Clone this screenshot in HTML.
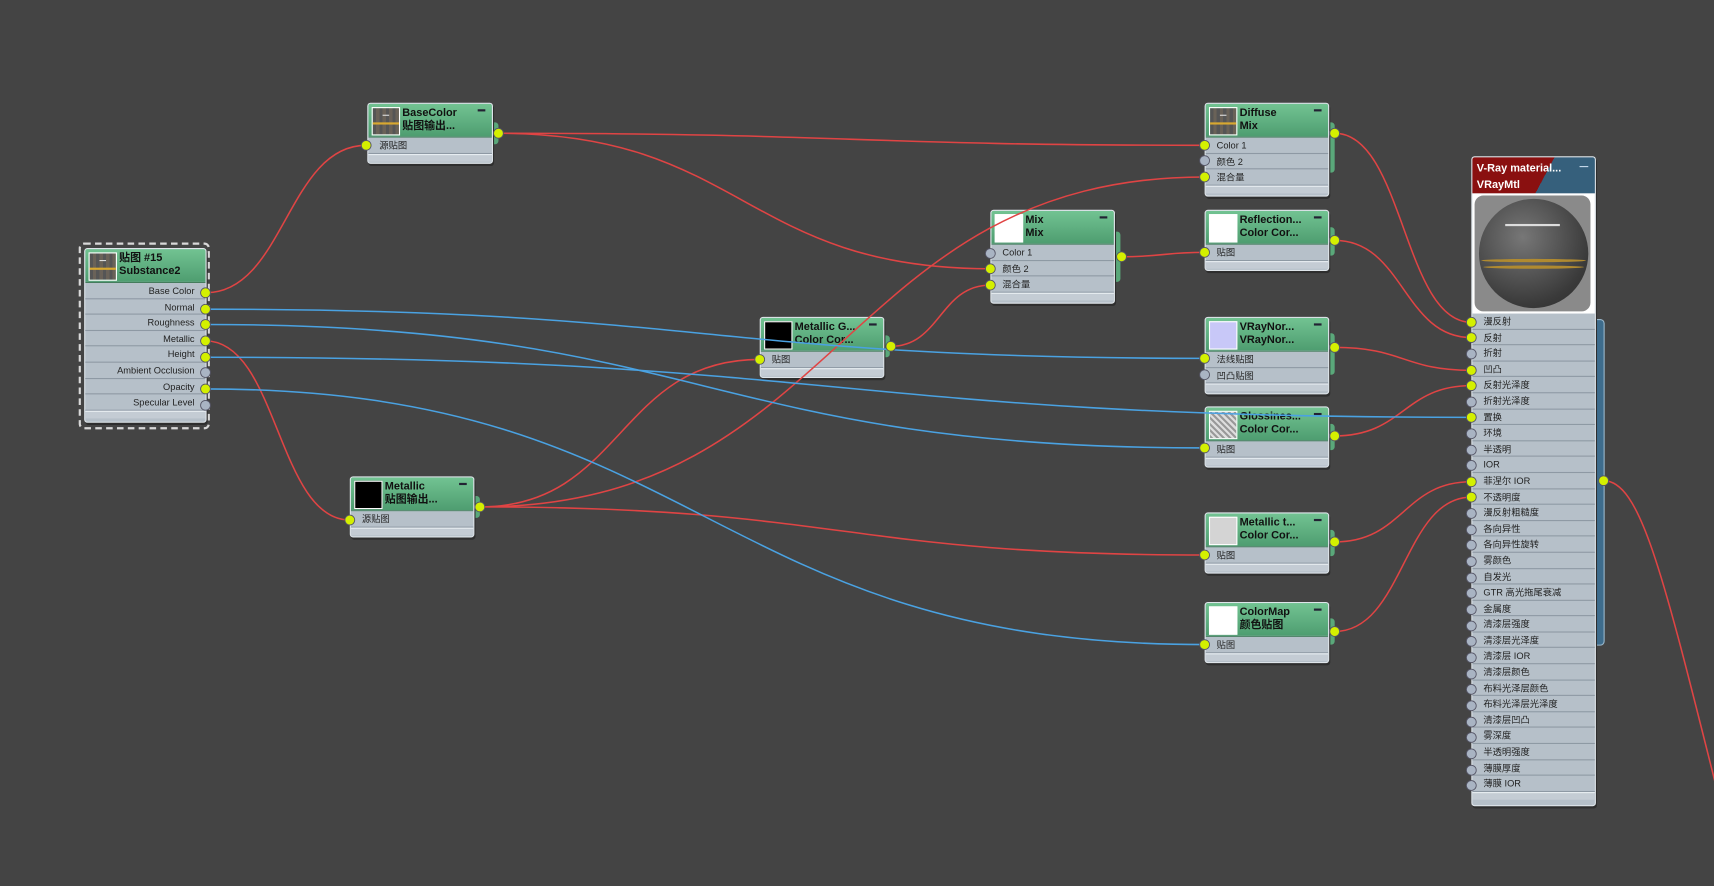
<!DOCTYPE html>
<html><head><meta charset="utf-8"><style>
html,body{margin:0;padding:0;background:#444444;width:1714px;height:886px;overflow:hidden}
#s{position:absolute;left:0;top:0;width:1568px;height:811px;transform:scale(1.0931,1.0925);transform-origin:0 0;font-family:"Liberation Sans","Noto Sans CJK SC",sans-serif}
.n{position:absolute;background:#b6c0c9;border:1px solid #dfe5ea;border-radius:3px;box-shadow:1px 2px 0 #2e2e2e}
.h{position:relative;height:30px;background:linear-gradient(#72c392,#4e9d70);border-bottom:1px solid #3f7a58;border-radius:2px 2px 0 0}
.h .t{position:absolute;left:3px;top:3px;width:24px;height:24px;border:1px solid #fff;background:#fff}
.h .a{position:absolute;left:31px;top:3px;font-size:10px;font-weight:bold;color:#111;line-height:12px;white-space:nowrap}
.h .m{position:absolute;right:6px;top:2px;width:7px;height:2px;background:#223;top:5px}
.r{height:13.6px;border-bottom:1px solid #8e99a4;font-size:8.5px;line-height:14px;color:#222;padding-left:10px;white-space:nowrap}
.rr{text-align:right;padding-right:10px;padding-left:0}
.b{height:6px;border-top:1px solid #e8eef2;background:#c4ccd4}
.tab{position:absolute;width:7px;background:#5aa87a;border-radius:0 3px 3px 0}
.h .t.road{background:repeating-linear-gradient(90deg,#555 0 3px,#6a6258 3px 6px)}
.h .t.road:after{content:"";position:absolute;left:0;right:0;top:13px;height:2px;background:#d8a830}
.h .t.road:before{content:"";position:absolute;left:9px;width:6px;top:6px;height:1px;background:#ddd}
</style></head><body><div id="s">

<!-- Substance -->
<div style="position:absolute;left:72px;top:222px;width:116px;height:167px;border:2px dashed #d8d8d8;border-radius:5px"></div>
<div class="n" style="left:77px;top:227px;width:110px;height:158px">
 <div class="h"><div class="t road"></div><div class="a">贴图 #15<br>Substance2</div></div>
 <div class="r rr">Base Color</div><div class="r rr">Normal</div><div class="r rr">Roughness</div><div class="r rr">Metallic</div><div class="r rr">Height</div><div class="r rr">Ambient Occlusion</div><div class="r rr">Opacity</div><div class="r rr">Specular Level</div><div class="b"></div>
</div>

<!-- BaseColor -->
<div class="tab" style="left:449px;top:112px;height:20px"></div>
<div class="n" style="left:336px;top:94px;width:113px;height:54px">
 <div class="h"><div class="t road"></div><div class="a">BaseColor<br>贴图输出...</div><div class="m"></div></div>
 <div class="r">源贴图</div><div class="b"></div></div>

<!-- Metallic -->
<div class="tab" style="left:432px;top:454px;height:20px"></div>
<div class="n" style="left:320px;top:436px;width:112px;height:54px">
 <div class="h"><div class="t" style="background:#000"></div><div class="a">Metallic<br>贴图输出...</div><div class="m"></div></div>
 <div class="r">源贴图</div><div class="b"></div></div>

<!-- Metallic G -->
<div class="tab" style="left:807px;top:307px;height:20px"></div>
<div class="n" style="left:695px;top:290px;width:112px;height:54px">
 <div class="h"><div class="t" style="background:#000"></div><div class="a">Metallic G...<br>Color Cor...</div><div class="m"></div></div>
 <div class="r">贴图</div><div class="b"></div></div>

<!-- Mix -->
<div class="tab" style="left:1018px;top:212px;height:46px"></div>
<div class="n" style="left:906px;top:192px;width:112px;height:84px">
 <div class="h"><div class="t"></div><div class="a">Mix<br>Mix</div><div class="m"></div></div>
 <div class="r">Color 1</div><div class="r">颜色 2</div><div class="r">混合量</div><div class="b"></div></div>

<!-- Diffuse -->
<div class="tab" style="left:1214px;top:112px;height:46px"></div>
<div class="n" style="left:1102px;top:94px;width:112px;height:84px">
 <div class="h"><div class="t road"></div><div class="a">Diffuse<br>Mix</div><div class="m"></div></div>
 <div class="r">Color 1</div><div class="r">颜色 2</div><div class="r">混合量</div><div class="b"></div></div>

<!-- Reflection -->
<div class="tab" style="left:1214px;top:208px;height:26px"></div>
<div class="n" style="left:1102px;top:192px;width:112px;height:54px">
 <div class="h"><div class="t"></div><div class="a">Reflection...<br>Color Cor...</div><div class="m"></div></div>
 <div class="r">贴图</div><div class="b"></div></div>

<!-- VRayNor -->
<div class="tab" style="left:1214px;top:305px;height:38px"></div>
<div class="n" style="left:1102px;top:290px;width:112px;height:69px">
 <div class="h"><div class="t" style="background:#c8c8f8"></div><div class="a">VRayNor...<br>VRayNor...</div><div class="m"></div></div>
 <div class="r">法线贴图</div><div class="r">凹凸贴图</div><div class="b"></div></div>

<!-- Glossiness -->
<div class="tab" style="left:1214px;top:388px;height:24px"></div>
<div class="n" style="left:1102px;top:372px;width:112px;height:54px">
 <div class="h"><div class="t" style="background:repeating-linear-gradient(45deg,#999 0 2px,#ddd 2px 4px)"></div><div class="a">Glossines...<br>Color Cor...</div><div class="m"></div></div>
 <div class="r">贴图</div><div class="b"></div></div>

<!-- Metallic t -->
<div class="tab" style="left:1214px;top:485px;height:24px"></div>
<div class="n" style="left:1102px;top:469px;width:112px;height:54px">
 <div class="h"><div class="t" style="background:#d4d4d4"></div><div class="a">Metallic t...<br>Color Cor...</div><div class="m"></div></div>
 <div class="r">贴图</div><div class="b"></div></div>

<!-- ColorMap -->
<div class="tab" style="left:1214px;top:566px;height:24px"></div>
<div class="n" style="left:1102px;top:551px;width:112px;height:54px">
 <div class="h"><div class="t"></div><div class="a">ColorMap<br>颜色贴图</div><div class="m"></div></div>
 <div class="r">贴图</div><div class="b"></div></div>

<!-- VRay -->
<div style="position:absolute;left:1458px;top:292px;width:8px;height:297px;background:#3e6c8c;border:1px solid #9ab8cc;border-radius:0 4px 4px 0"></div>
<div class="n" style="left:1346px;top:143px;width:112px;height:593px;background:#b6c0c9">
 <div style="position:relative;height:33px;background:linear-gradient(118deg,#8a1010 0 58%,#36607c 58%);border-radius:2px 2px 0 0">
  <div style="position:absolute;left:4px;top:3px;font-size:10px;font-weight:bold;color:#fff;line-height:15px">V-Ray material...<br>VRayMtl</div>
  <div style="position:absolute;right:6px;top:8px;width:8px;height:1px;background:#cde"></div></div>
 <div style="height:110px;background:#fff;position:relative"><div style="position:absolute;left:2px;top:2px;width:106px;height:106px;background:#8a8a8a;border-radius:8px"></div><div style="position:absolute;left:6px;top:5px;width:100px;height:100px;border-radius:50%;background:radial-gradient(circle at 40% 35%,#777,#3a3a3a 70%,#2a2a2a)"></div><div style="position:absolute;left:8px;top:60px;width:96px;height:3px;background:#b08a30;border-radius:50%"></div><div style="position:absolute;left:10px;top:66px;width:92px;height:3px;background:#b08a30;border-radius:50%"></div><div style="position:absolute;left:30px;top:28px;width:50px;height:2px;background:#ddd"></div></div>
 <div class="r">漫反射</div><div class="r">反射</div><div class="r">折射</div><div class="r">凹凸</div><div class="r">反射光泽度</div><div class="r">折射光泽度</div><div class="r">置换</div><div class="r">环境</div><div class="r">半透明</div><div class="r">IOR</div><div class="r">菲涅尔 IOR</div><div class="r">不透明度</div><div class="r">漫反射粗糙度</div><div class="r">各向异性</div><div class="r">各向异性旋转</div><div class="r">雾颜色</div><div class="r">自发光</div><div class="r">GTR 高光拖尾衰减</div><div class="r">金属度</div><div class="r">清漆层强度</div><div class="r">清漆层光泽度</div><div class="r">清漆层 IOR</div><div class="r">清漆层颜色</div><div class="r">布料光泽层颜色</div><div class="r">布料光泽层光泽度</div><div class="r">清漆层凹凸</div><div class="r">雾深度</div><div class="r">半透明强度</div><div class="r">薄膜厚度</div><div class="r">薄膜 IOR</div><div class="b"></div>
</div>

<svg width="1568" height="811" style="position:absolute;left:0;top:0" fill="none" stroke-width="1.4">
<g stroke="#e04444">
<path d="M188 268 C260 268 263 133 335 133"/>
<path d="M456 122 C780 122 780 133 1102 133"/>
<path d="M456 122 C680 122 680 246 906 246"/>
<path d="M188 312 C254 312 254 476 320 476"/>
<path d="M439 464 C570 464 565 329 695 329"/>
<path d="M439 464 C770 464 770 162 1102 162"/>
<path d="M439 464 C770 464 770 508 1102 508"/>
<path d="M815 317 C860 317 860 261 906 261"/>
<path d="M1026 235 C1064 235 1064 231 1102 231"/>
<path d="M1221 122 C1284 122 1284 295 1346 295"/>
<path d="M1221 220 C1284 220 1284 309 1346 309"/>
<path d="M1221 318 C1284 318 1284 339 1346 339"/>
<path d="M1221 399 C1284 399 1284 353 1346 353"/>
<path d="M1221 496 C1284 496 1284 441 1346 441"/>
<path d="M1221 578 C1284 578 1284 455 1346 455"/>
<path d="M1467 440 C1500 440 1520 520 1570 720"/>
</g>
<g stroke="#4aa2e2">
<path d="M188 283 C645 283 645 328 1102 328"/>
<path d="M188 297 C645 297 645 410 1102 410"/>
<path d="M188 327 C767 327 767 382 1346 382"/>
<path d="M188 356 C645 356 645 590 1102 590"/>
</g>
<g stroke="#556" stroke-width="0.8">
<g fill="#d4f000">
<circle cx="188" cy="268" r="4.5"/><circle cx="188" cy="283" r="4.5"/><circle cx="188" cy="297" r="4.5"/><circle cx="188" cy="312" r="4.5"/><circle cx="188" cy="327" r="4.5"/><circle cx="188" cy="356" r="4.5"/>
<circle cx="335" cy="133" r="4.5"/><circle cx="456" cy="122" r="4.5"/>
<circle cx="320" cy="476" r="4.5"/><circle cx="439" cy="464" r="4.5"/>
<circle cx="695" cy="329" r="4.5"/><circle cx="815" cy="317" r="4.5"/>
<circle cx="906" cy="246" r="4.5"/><circle cx="906" cy="261" r="4.5"/><circle cx="1026" cy="235" r="4.5"/>
<circle cx="1102" cy="133" r="4.5"/><circle cx="1102" cy="162" r="4.5"/><circle cx="1221" cy="122" r="4.5"/>
<circle cx="1102" cy="231" r="4.5"/><circle cx="1221" cy="220" r="4.5"/>
<circle cx="1102" cy="328" r="4.5"/><circle cx="1221" cy="318" r="4.5"/>
<circle cx="1102" cy="410" r="4.5"/><circle cx="1221" cy="399" r="4.5"/>
<circle cx="1102" cy="508" r="4.5"/><circle cx="1221" cy="496" r="4.5"/>
<circle cx="1102" cy="590" r="4.5"/><circle cx="1221" cy="578" r="4.5"/>
<circle cx="1346" cy="295" r="4.5"/><circle cx="1346" cy="309" r="4.5"/><circle cx="1346" cy="339" r="4.5"/><circle cx="1346" cy="353" r="4.5"/><circle cx="1346" cy="382" r="4.5"/><circle cx="1346" cy="441" r="4.5"/><circle cx="1346" cy="455" r="4.5"/>
<circle cx="1467" cy="440" r="4.5"/>
</g>
<g fill="#a9b4c3">
<circle cx="188" cy="341" r="4.5"/><circle cx="188" cy="371" r="4.5"/>
<circle cx="906" cy="232" r="4.5"/><circle cx="1102" cy="147" r="4.5"/><circle cx="1102" cy="343" r="4.5"/>
<circle cx="1346" cy="324" r="4.5"/><circle cx="1346" cy="368" r="4.5"/><circle cx="1346" cy="397" r="4.5"/><circle cx="1346" cy="412" r="4.5"/><circle cx="1346" cy="426" r="4.5"/>
<circle cx="1346" cy="470" r="4.5"/><circle cx="1346" cy="485" r="4.5"/><circle cx="1346" cy="499" r="4.5"/><circle cx="1346" cy="514" r="4.5"/><circle cx="1346" cy="529" r="4.5"/><circle cx="1346" cy="543" r="4.5"/><circle cx="1346" cy="558" r="4.5"/><circle cx="1346" cy="573" r="4.5"/><circle cx="1346" cy="587" r="4.5"/><circle cx="1346" cy="602" r="4.5"/><circle cx="1346" cy="617" r="4.5"/><circle cx="1346" cy="631" r="4.5"/><circle cx="1346" cy="646" r="4.5"/><circle cx="1346" cy="661" r="4.5"/><circle cx="1346" cy="675" r="4.5"/><circle cx="1346" cy="690" r="4.5"/><circle cx="1346" cy="705" r="4.5"/><circle cx="1346" cy="719" r="4.5"/>
</g></g>
</svg>
</div></body></html>
